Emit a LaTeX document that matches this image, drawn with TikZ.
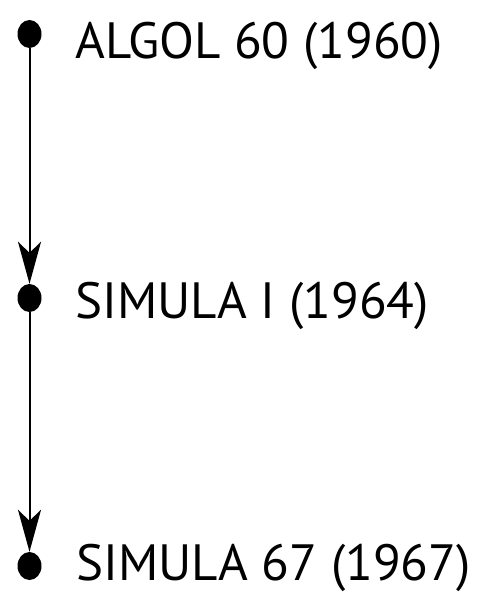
\documentclass[tikz,border=0pt]{standalone}
\usepackage{fontspec}
\setmainfont{PT Sans}
\usetikzlibrary{arrows.meta,shapes.geometric}

\tikzset{
  stage/.style={ellipse, fill=black, inner sep=0pt, minimum width=24pt, minimum height=28pt},
  lang/.style={anchor=base west, inner sep=0pt, font=\fontsize{51}{54}\selectfont},
  link/.style={line width=2pt, -{Stealth[length=42pt,width=23pt,inset=11pt]}}
}

\begin{document}
\begin{tikzpicture}[x=1pt,y=-1pt]
      \useasboundingbox (0,0) rectangle (478,597);
      %%%%%%%%%%%%%%%%%%%%%%%%%%%%%%%%%%%%%%%%%%%%%%%
      \node[stage] at (29.5,34)  (d1) {};
      \node[stage] at (29.5,298) (d2) {};
      \node[stage] at (29.5,566) (d3) {};
      %%%%%%%%%%%%%%%%%%%%%%%%%%%%%%%%%%%%%%%%%%%%%%%
      \node[lang] at (75,58)  (t1) {ALGOL 60 (1960)};
      \node[lang] at (75,318) (t2) {SIMULA I (1964)};
      \node[lang] at (76,580) (t3) {SIMULA 67 (1967)};
      %%%%%%%%%%%%%%%%%%%%%%%%%%%%%%%%%%%%%%%%%%%%%%%
      \draw[link] (d1) -- (d2);
      \draw[link] (d2) -- (d3);
\end{tikzpicture}
\end{document}
